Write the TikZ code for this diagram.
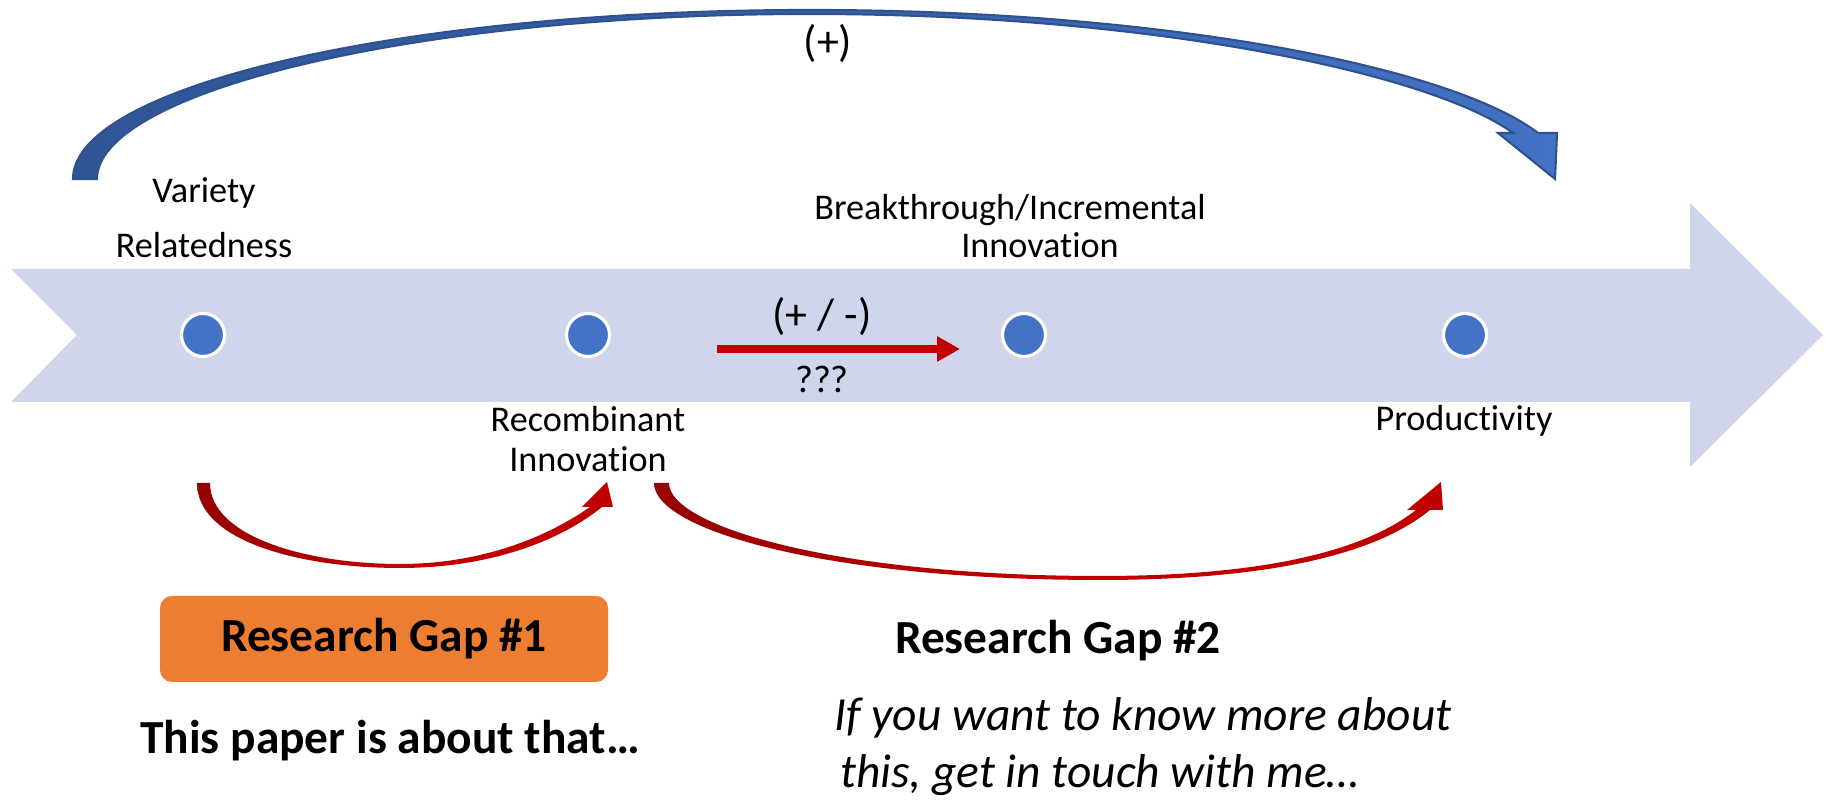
\documentclass[tikz,border=0pt]{standalone}
\usepackage{fontspec}
\setmainfont{Carlito}[Ligatures=NoCommon]
\usepackage{xcolor}
\definecolor{bandblue}{HTML}{CFD5EA}
\definecolor{dotblue}{HTML}{4472C4}
\definecolor{arcdark}{HTML}{2F5597}
\definecolor{arcline}{HTML}{2F528F}
\definecolor{myred}{HTML}{C00000}
\definecolor{darkred}{HTML}{960000}
\definecolor{gaporange}{HTML}{ED7D31}
\usetikzlibrary{arrows.meta,calc,positioning}
\newcommand{\stagefont}{\fontsize{10.3}{12}\selectfont}
\newcommand{\gapfont}{\fontsize{13.5}{16}\selectfont}

\begin{document}
\begin{tikzpicture}
    % \draw[style=help lines,step=0.5cm] (0,0) grid (18.25,8.01);
    \useasboundingbox (0,0) rectangle (18.25,8.01);

    % timeline arrow
    \fill[bandblue] (0.11,5.32) -- (16.90,5.32) -- (16.90,5.98) -- (18.23,4.66) -- (16.90,3.34) -- (16.90,3.99) -- (0.11,3.99) -- (0.77,4.66) -- cycle;

    \foreach \x/\n in {2.03/var, 5.88/rec, 10.24/brk, 14.65/prod} {
      \node[circle, fill=dotblue, draw=white, line width=0.9pt, minimum size=0.43cm, inner sep=0pt] (\n) at (\x,4.66) {};
    }

    \node[anchor=base] (varTxt) at (2.04,5.98) {\stagefont Variety};
    \node[anchor=base] (relTxt) at (2.04,5.43) {\stagefont Relatedness};
    \node[anchor=base] (brkTxt) at (10.10,5.81) {\stagefont Breakthrough/Incremental};
    \node[anchor=base] (innTxt) at (10.40,5.43) {\stagefont Innovation};
    \node[anchor=base] (recTxt) at (5.88,3.69) {\stagefont Recombinant};
    \node[anchor=base] (rinTxt) at (5.88,3.29) {\stagefont Innovation};
    \node[anchor=base] (prodTxt) at (14.64,3.70) {\stagefont Productivity};

    % rec -> brk, sign unknown
    \coordinate (fromRec) at (7.17,4.52);
    \coordinate (toBrk) at (9.60,4.52);
    \draw[myred, line width=2.3pt, -{Triangle[length=6.5pt,width=6.8pt]}] (fromRec) -- (toBrk);
    \node[anchor=base] (pmTxt) at (8.22,4.71) {\fontsize{12.5}{14}\selectfont (+ / -)};
    \node[anchor=base] (qTxt) at (8.22,4.08) {\fontsize{11}{13}\selectfont ???};

    % var -> prod, positive
    \path[draw=arcline, line width=0.6pt, left color=arcdark, right color=dotblue, middle color=arcdark!60!dotblue]
      (0.73,6.22) .. controls (0.73,7.15) and (4.03,7.91) .. (8.1,7.91)
      .. controls (11.6,7.91) and (14.5,7.35) .. (15.38,6.68)
      -- (15.57,6.68) -- (15.55,6.22) -- (14.98,6.68) -- (15.13,6.68)
      .. controls (14.3,7.28) and (11.5,7.87) .. (8.1,7.87)
      .. controls (4.1,7.87) and (0.97,7.08) .. (0.97,6.22) -- cycle;
    \node[anchor=base] (plusTxt) at (8.28,7.44) {\fontsize{12.5}{14}\selectfont (+)};

    % var -> rec and rec -> prod
    \path[left color=darkred, right color=myred, middle color=myred]
      (1.97,3.18) .. controls (1.97,2.60) and (3.0,2.33) .. (4.0,2.33)
      .. controls (4.9,2.33) and (5.6,2.6) .. (6.02,2.94)
      -- (6.13,2.94) -- (6.07,3.19) -- (5.82,2.94) -- (5.90,2.94)
      .. controls (5.5,2.66) and (4.85,2.37) .. (4.0,2.37)
      .. controls (3.05,2.37) and (2.10,2.65) .. (2.10,3.18) -- cycle;
    \path[left color=darkred, right color=myred, middle color=myred]
      (6.54,3.18) .. controls (6.54,2.70) and (8.3,2.21) .. (11.0,2.21)
      .. controls (12.8,2.21) and (13.8,2.5) .. (14.30,2.91)
      -- (14.43,2.91) -- (14.41,3.19) -- (14.07,2.91) -- (14.16,2.91)
      .. controls (13.7,2.55) and (12.8,2.25) .. (11.0,2.25)
      .. controls (8.4,2.25) and (6.69,2.74) .. (6.69,3.18) -- cycle;

    \node[fill=gaporange, rounded corners=0.12cm, minimum width=4.48cm, minimum height=0.86cm] (gapOne) at (3.84,1.62) {\gapfont\bfseries Research Gap \#1};
    \node[anchor=base] (paperTxt) at (3.90,0.47) {\gapfont\bfseries This paper is about that…};
    \node[anchor=base] (gapTwo) at (10.58,1.47) {\gapfont\bfseries Research Gap \#2};
    \node[anchor=base] (moreTxt) at (11.43,0.70) {\gapfont\itshape If you want to know more about};
    \node[anchor=base] (touchTxt) at (11.00,0.13) {\gapfont\itshape this, get in touch with me…};
\end{tikzpicture}
\end{document}
